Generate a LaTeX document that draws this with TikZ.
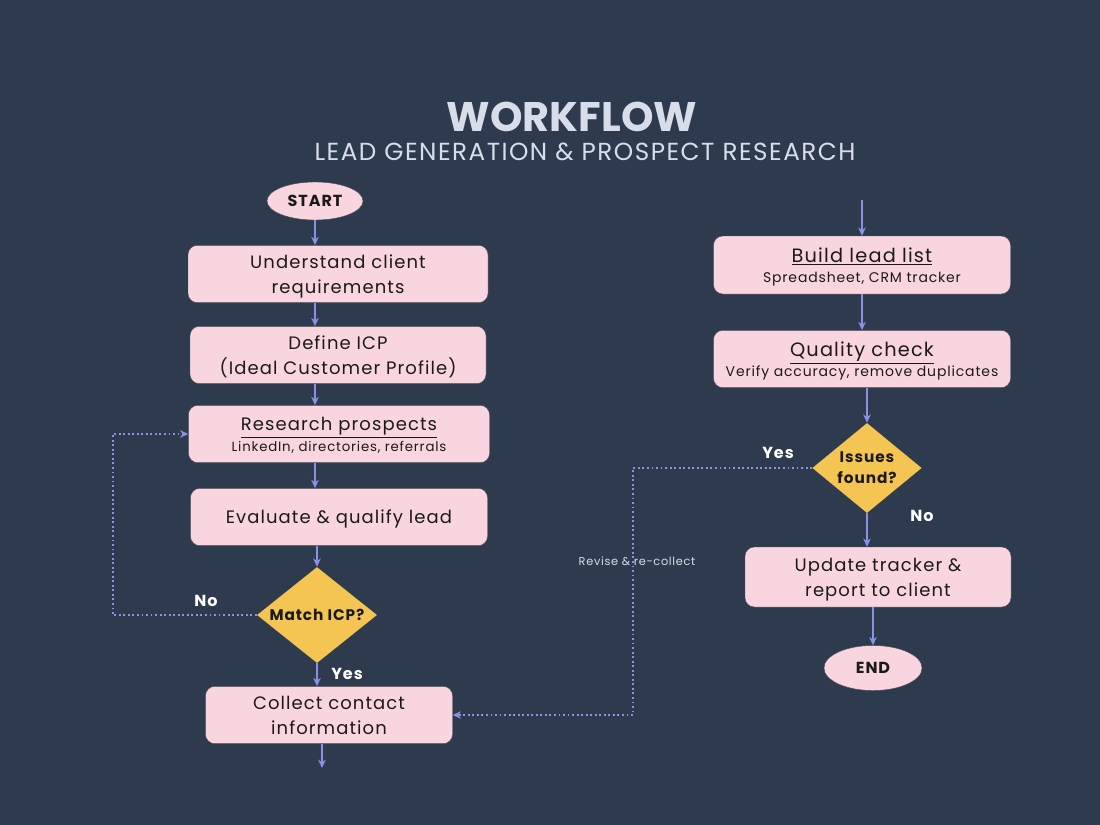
\documentclass[tikz,border=0pt]{standalone}
\usepackage{fontspec}
\setmainfont{Poppins}[LetterSpace=6]
\newfontfamily\titlefont{Poppins}
\usetikzlibrary{arrows.meta,shapes.geometric}
\definecolor{bg}{HTML}{2E3B4E}
\definecolor{boxpink}{HTML}{F9D6DF}
\definecolor{gold}{HTML}{F5C553}
\definecolor{lav}{HTML}{8D90E6}
\definecolor{ttl}{HTML}{D8DEE9}
\definecolor{ink}{HTML}{1A1A1A}
\tikzset{
  >={Stealth[length=2.2mm,width=2mm]},
  box/.style={rectangle,rounded corners=7pt,fill=boxpink,draw=black!70,line width=0.3pt,minimum width=#1,minimum height=43pt,inner sep=0pt,text depth=0pt,align=center,text=ink,font=\fontsize{13.5}{19}\selectfont},
  dec/.style={diamond,fill=gold,shape aspect=1.25,inner sep=0pt,align=center,text=ink,font=\bfseries\fontsize{11.5}{16}\selectfont},
  term/.style={ellipse,fill=boxpink,draw=black!70,line width=0.3pt,inner sep=0pt,text=ink,font=\bfseries\fontsize{12}{14}\selectfont},
  lbl/.style={text=white,font=\bfseries\fontsize{12}{13}\selectfont},
  arr/.style={->,draw=lav,line width=1.3pt},
  back/.style={->,draw=lav,line width=1.4pt,dotted},
}
\newcommand{\subline}[2][10]{\\[-3.5pt]{\fontsize{#1}{12}\selectfont #2}}

\begin{document}
\begin{tikzpicture}[x=0.75pt,y=-0.75pt]
\fill[bg] (0,0) rectangle (1100,825);
\useasboundingbox (0,0) rectangle (1100,825);
% title
\node[text=ttl,font=\titlefont\bfseries\fontsize{31}{34}\selectfont] (ttl) at (572,117) {WORKFLOW};
\node[text=ttl,font=\fontsize{18.5}{22}\selectfont] (sttl) at (585,152) {LEAD GENERATION \& PROSPECT RESEARCH};
% left column
\node[term,minimum width=72pt,minimum height=28.5pt] (start) at (315,201) {START};
\node[box=225pt] (und) at (338,274) {Understand client\\requirements};
\node[box=222pt] (icp) at (338,355) {Define ICP\\(Ideal Customer Profile)};
\node[box=225.75pt] (res) at (339,434) {\underline{Research prospects}\subline{LinkedIn, directories, referrals}};
\node[box=222.75pt] (ev) at (339,517) {Evaluate \& qualify lead};
\node[dec,minimum width=90pt,minimum height=72pt] (mat) at (317,615) {Match ICP?};
\node[box=185.25pt] (col) at (329,715) {Collect contact\\information};
\coordinate (bot) at (322,768);
% right column
\coordinate (top) at (862,200);
\node[box=222.75pt,minimum height=43.5pt,font=\fontsize{14.5}{19}\selectfont] (bld) at (862,265) {\underline{Build lead list}\subline[10.5]{Spreadsheet, CRM tracker}};
\node[box=222.75pt,font=\fontsize{14.5}{19}\selectfont] (qc) at (862,359) {\underline{Quality check}\subline[10.5]{Verify accuracy, remove duplicates}};
\node[dec,minimum width=82pt,minimum height=67.5pt,shape aspect=1.2] (iss) at (867,468) {Issues\\found?};
\node[box=199.5pt,minimum height=45pt] (upd) at (878,577) {Update tracker \&\\report to client};
\node[term,minimum width=73.5pt,minimum height=33.75pt] (end) at (873,668) {END};
% connectors
\draw[arr] (start.south) -- (start.south |- und.north);
\draw[arr] (start.south |- und.south) -- (start.south |- icp.north);
\draw[arr] (start.south |- icp.south) -- (start.south |- res.north);
\draw[arr] (start.south |- res.south) -- (start.south |- ev.north);
\draw[arr] (mat.north |- ev.south) -- (mat.north);
\draw[arr] (mat.south) -- (mat.south |- col.north);
\draw[arr] (bot |- col.south) -- (bot);
\draw[arr] (top) -- (top |- bld.north);
\draw[arr] (top |- bld.south) -- (top |- qc.north);
\draw[arr] (iss.north |- qc.south) -- (iss.north);
\draw[arr] (iss.south) -- (iss.south |- upd.north);
\draw[arr] (end.north |- upd.south) -- (end.north);
\draw[back] (mat.west) -- ++(-144,0) |- (res.west);
\draw[back] (iss.west) -- ++(-179,0) |- (col.east);
% labels
\node[lbl] (no1) at (206,601) {No};
\node[lbl] (yes1) at (347,674) {Yes};
\node[lbl] (yes2) at (778,453) {Yes};
\node[lbl] (no2) at (922,516) {No};
\node[text=ttl,font=\fontsize{8.5}{10}\selectfont] (rev) at (637,561) {Revise \& re-collect};
\end{tikzpicture}
\end{document}
